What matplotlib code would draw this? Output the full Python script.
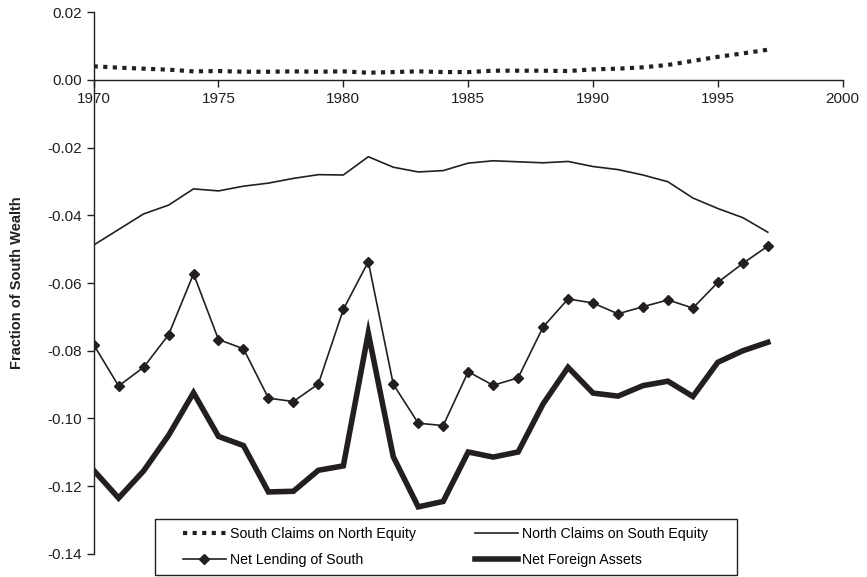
import matplotlib
matplotlib.use("Agg")
import matplotlib.pyplot as plt
from matplotlib.patches import Rectangle
from matplotlib.ticker import FuncFormatter, MultipleLocator
import numpy as np

plt.rcParams['font.family'] = ['Liberation Sans', 'DejaVu Sans']

years = np.arange(1970, 1998)

# fraction of south wealth
south_claims = [0.0040, 0.0036, 0.0033, 0.0030, 0.0025, 0.0026, 0.0024, 0.0024,
                0.0025, 0.0024, 0.0025, 0.0021, 0.0023, 0.0025, 0.0023, 0.0023,
                0.0027, 0.0027, 0.0027, 0.0026, 0.0031, 0.0033, 0.0037, 0.0044,
                0.0056, 0.0068, 0.0078, 0.0089]
north_claims = [-0.0488, -0.0442, -0.0396, -0.0370, -0.0322, -0.0328, -0.0314, -0.0305,
                -0.0291, -0.0280, -0.0281, -0.0227, -0.0258, -0.0272, -0.0268, -0.0246,
                -0.0239, -0.0242, -0.0245, -0.0241, -0.0256, -0.0265, -0.0281, -0.0301,
                -0.0349, -0.0380, -0.0407, -0.0450]
net_lending = [-0.0782, -0.0904, -0.0849, -0.0753, -0.0573, -0.0767, -0.0794, -0.0940,
               -0.0950, -0.0898, -0.0678, -0.0537, -0.0899, -0.1014, -0.1021, -0.0862,
               -0.0902, -0.0880, -0.0730, -0.0647, -0.0659, -0.0691, -0.0670, -0.0650,
               -0.0674, -0.0598, -0.0542, -0.0491]
net_foreign = [-0.1153, -0.1235, -0.1155, -0.1050, -0.0924, -0.1053, -0.1080, -0.1217,
               -0.1215, -0.1153, -0.1140, -0.0748, -0.1113, -0.1261, -0.1245, -0.1099,
               -0.1114, -0.1099, -0.0957, -0.0849, -0.0925, -0.0934, -0.0903, -0.0890,
               -0.0935, -0.0834, -0.0800, -0.0775]

ink = '#231f20'

fig = plt.figure(figsize=(8.67, 5.77), dpi=100)
ax = fig.add_axes([0.108, 0.040, 0.864, 0.939])

l1, = ax.plot(years, south_claims, color=ink, lw=3, linestyle=(0, (1, 1.3)),
              dash_capstyle='butt', label='South Claims on North Equity')
l2, = ax.plot(years, north_claims, color=ink, lw=1.2, label='North Claims on South Equity')
l3, = ax.plot(years, net_lending, color=ink, lw=1.2, marker='D', ms=5,
              label='Net Lending of South')
l4, = ax.plot(years, net_foreign, color=ink, lw=4, solid_joinstyle='miter',
              label='Net Foreign Assets')

ax.set_xlim(1970, 2000)
ax.set_ylim(-0.14, 0.02)
ax.xaxis.set_major_locator(MultipleLocator(5))
ax.yaxis.set_major_locator(MultipleLocator(0.02))
ax.yaxis.set_major_formatter(FuncFormatter(lambda v, p: '{:.2f}'.format(v).replace('-0.00', '0.00')))

ax.spines['top'].set_visible(False)
ax.spines['right'].set_visible(False)
ax.spines['bottom'].set_position(('data', 0))
for s in ('left', 'bottom'):
    ax.spines[s].set_color(ink)
    ax.spines[s].set_linewidth(1.0)
ax.tick_params(axis='both', direction='out', length=5, width=1.0, color=ink,
               labelsize=11, labelcolor=ink)
ax.tick_params(axis='x', pad=4)

ax.set_ylabel('Fraction of South Wealth', fontsize=10.5, fontweight='bold',
              color=ink, labelpad=17)

# legend box drawn separately so the padding matches
fig.patches.append(Rectangle((0.1788, 0.0035), 0.6713, 0.0971, transform=fig.transFigure,
                             facecolor='white', edgecolor=ink, lw=1.0, zorder=3))
leg = fig.legend([l1, l3, l2, l4], [l.get_label() for l in (l1, l3, l2, l4)],
                 loc='center left', bbox_to_anchor=(0.2111, 0.052, 0.6055, 0),
                 mode='expand', ncol=2, frameon=False,
                 handlelength=3.0, handletextpad=0.3, borderpad=0,
                 borderaxespad=0, labelspacing=0.8, fontsize=10.2)
leg.set_zorder(4)

fig.savefig('out.png', dpi=100)
